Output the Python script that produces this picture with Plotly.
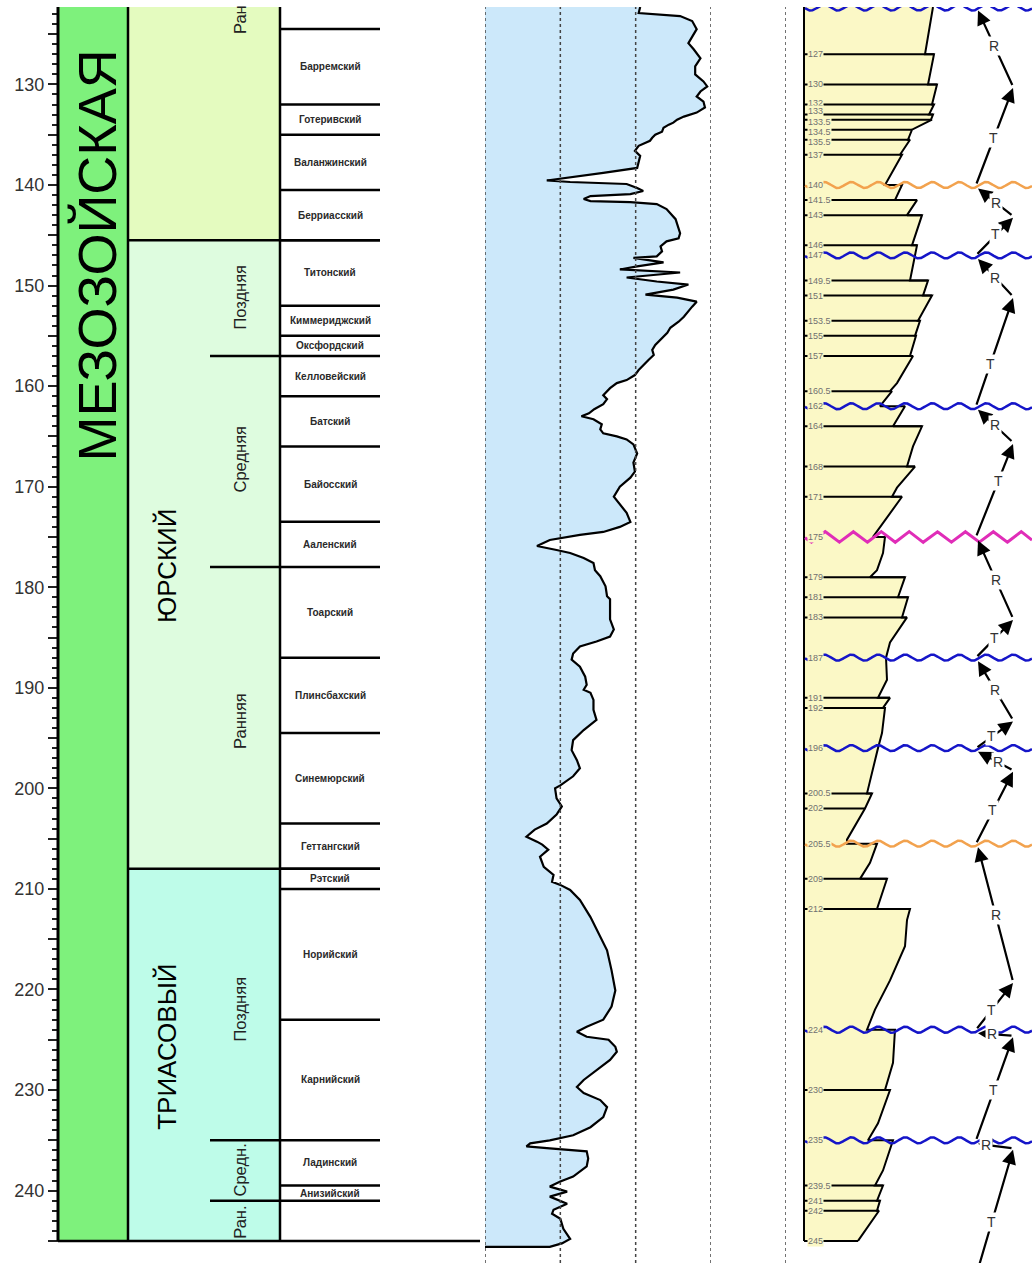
import numpy as np
import plotly.graph_objects as go

# ---------------- vertical scale (million years) ----------------
AGE_TOP = 122.3      # youngest age at the top edge
AGE_BOTTOM = 247.2   # oldest age at the bottom edge
AGE_BASE = 245.0     # base of the section

# ---------------- geological timescale ----------------
era_name = "МЕЗОЗОЙСКАЯ"
era_label_age = 147.0

period_names = ["", "ЮРСКИЙ", "ТРИАСОВЫЙ"]
period_tops = [AGE_TOP, 145.5, 208.0]
period_bases = [145.5, 208.0, 245.0]
period_label_ages = [None, 177.9, 225.7]
period_colors = ["#E4FBBF", "#DEFCDF", "#BEFCE9"]

epoch_names = ["Ран", "Поздняя", "Средняя", "Ранняя", "Поздняя", "Средн.", "Ран."]
epoch_label_ages = [123.6, 151.2, 167.3, 193.3, 222.0, 238.0, 243.2]
epoch_bounds = [157.0, 178.0, 235.0, 241.0]

stage_names = ["Барремский", "Готеривский", "Валанжинский", "Берриасский",
               "Титонский", "Киммериджский", "Оксфордский", "Келловейский",
               "Батский", "Байосский", "Ааленский", "Тоарский", "Плинсбахский",
               "Синемюрский", "Геттангский", "Рэтский", "Норийский",
               "Карнийский", "Ладинский", "Анизийский"]
stage_bounds = [124.5, 132.0, 135.0, 140.5, 145.5, 152.0, 155.0, 157.0, 161.0,
                166.0, 173.5, 178.0, 187.0, 194.5, 203.5, 208.0, 210.0, 223.0,
                235.0, 239.5, 241.0]

major_ticks = list(range(125, 246, 5))
major_labels = [str(t) if t % 10 == 0 else "" for t in major_ticks]
minor_ticks = [t for t in range(123, 245) if t % 5 != 0]

# ---------------- log curve ----------------
log_age = [122.3, 122.9, 123.2, 123.7, 124.5, 125.2, 125.9, 126.5, 127.4, 128.2,
           129.0, 129.7, 130.2, 130.7, 131.2, 131.7, 132.3, 132.8, 133.2, 133.5,
           133.8, 134.0, 134.3, 134.7, 135.0, 135.3, 135.6, 136.1, 136.6, 137.1,
           137.8, 138.3, 138.8, 139.3, 139.55, 139.7, 139.9, 140.3, 140.6, 140.9,
           141.1, 141.4, 141.6, 141.7, 141.9, 142.4, 143.4, 144.8, 145.3, 145.6,
           146.1, 146.6, 147.1, 147.25, 147.7, 148.1, 148.4, 148.7, 149.2, 149.6,
           149.9, 150.4, 150.9, 151.2, 151.6, 152.1, 152.6, 153.1, 153.6, 154.2,
           154.7, 155.4, 155.9, 156.4, 156.9, 157.4, 157.9, 158.4, 158.9, 159.4,
           159.7, 160.2, 160.9, 161.3, 161.8, 162.3, 162.7, 163.0, 163.3, 163.8,
           164.3, 164.7, 165.0, 165.3, 165.8, 166.7, 167.6, 168.5, 169.1, 170.0,
           171.0, 171.6, 172.6, 173.5, 174.0, 174.5, 174.8, 175.3, 175.9, 176.3,
           176.6, 177.1, 177.6, 178.3, 178.9, 179.9, 180.9, 181.2, 182.2, 183.2,
           184.2, 184.9, 185.4, 185.9, 186.6, 187.2, 187.9, 188.9, 189.7, 190.2,
           190.5, 191.2, 192.2, 193.2, 194.2, 195.2, 196.2, 197.2, 198.0, 198.8,
           199.7, 200.0, 201.0, 201.8, 202.6, 203.5, 204.1, 204.8, 205.3, 205.6,
           206.1, 206.8, 207.8, 208.6, 209.3, 209.6, 210.1, 211.1, 212.8, 214.4,
           216.1, 218.1, 220.1, 221.7, 223.0, 223.7, 224.2, 224.7, 225.0, 225.7,
           226.2, 227.0, 228.0, 229.0, 229.7, 230.3, 231.0, 231.7, 232.7, 233.7,
           234.5, 235.0, 235.3, 235.6, 235.8, 236.1, 236.8, 237.6, 238.6, 239.1,
           239.6, 240.1, 240.6, 241.3, 241.9, 242.3, 242.8, 243.8, 244.8, 245.25,
           245.6, 245.6]
log_value = [2.06, 2.04, 2.59, 2.75, 2.81, 2.75, 2.70, 2.77, 2.86, 2.79,
             2.79, 2.90, 2.95, 2.86, 2.81, 2.90, 2.92, 2.81, 2.64, 2.55,
             2.50, 2.44, 2.37, 2.35, 2.26, 2.22, 2.19, 2.04, 1.99, 2.06,
             2.04, 2.02, 1.57, 1.04, 0.82, 1.13, 1.88, 2.02, 2.10, 1.93,
             1.40, 1.31, 1.40, 1.93, 2.28, 2.41, 2.53, 2.59, 2.57, 2.41,
             2.33, 2.35, 2.28, 1.97, 2.37, 2.02, 1.79, 2.59, 1.88, 2.28,
             2.70, 2.50, 2.13, 2.55, 2.81, 2.75, 2.70, 2.64, 2.57, 2.46,
             2.42, 2.33, 2.26, 2.22, 2.24, 2.17, 2.10, 2.04, 1.99, 1.88,
             1.75, 1.66, 1.57, 1.62, 1.57, 1.45, 1.38, 1.28, 1.44, 1.55,
             1.53, 1.57, 1.75, 1.88, 1.97, 2.02, 1.97, 1.99, 1.93, 1.79,
             1.71, 1.77, 1.88, 1.93, 1.79, 1.57, 1.26, 0.86, 0.69, 0.95,
             1.13, 1.31, 1.44, 1.46, 1.53, 1.60, 1.62, 1.66, 1.66, 1.66,
             1.71, 1.66, 1.48, 1.26, 1.17, 1.15, 1.26, 1.33, 1.35, 1.31,
             1.40, 1.44, 1.44, 1.48, 1.31, 1.17, 1.15, 1.22, 1.26, 1.17,
             1.00, 0.93, 0.95, 1.02, 0.95, 0.82, 0.66, 0.55, 0.69, 0.76,
             0.84, 0.73, 0.78, 0.91, 0.89, 1.00, 1.13, 1.26, 1.40, 1.51,
             1.62, 1.68, 1.73, 1.68, 1.57, 1.35, 1.22, 1.35, 1.64, 1.73,
             1.75, 1.66, 1.48, 1.31, 1.22, 1.31, 1.53, 1.62, 1.57, 1.40,
             1.17, 0.86, 0.60, 0.55, 0.86, 1.35, 1.37, 1.35, 1.17, 1.00,
             0.86, 1.09, 0.86, 1.09, 0.91, 0.89, 1.00, 1.04, 1.13, 1.02,
             0.86, 0.00]

# ---------------- sequence column (bar width per age) ----------------
seq_edge_age = [122.3, 127, 127, 130, 130, 132, 132, 133, 133, 133.5, 133.5,
                134.5, 135.5, 135.5, 137, 137, 140, 140, 141.5, 141.5, 143, 143,
                146, 146, 149.5, 149.5, 151, 151, 153.5, 153.5, 155, 155, 157, 157,
                159.7, 160.5, 160.5, 162, 162, 164, 164, 166, 168, 168, 170.1,
                171, 171, 175, 175, 176.6, 178.3, 179, 179, 181, 181, 183, 183,
                185.5, 187, 189.2, 191, 191, 192, 192, 194.5, 196, 200.5, 200.5,
                202, 205.1, 205.5, 205.5, 207.4, 209, 209, 212, 212, 213.1, 215.7,
                219.1, 222, 224, 224, 227.3, 230, 230, 233.3, 235, 235, 238,
                239.5, 239.5, 241, 241, 242, 242, 245]
seq_edge_width = [129, 121, 130, 124, 133, 128, 130, 125, 129, 127, 128,
                  108, 104, 106, 96, 98, 81, 98, 91, 113, 103, 118,
                  108, 113, 106, 124, 119, 128, 114, 116, 111, 112, 106, 109,
                  93, 86, 88, 76, 101, 89, 118, 109, 103, 111, 93,
                  88, 98, 69, 81, 79, 73, 66, 101, 94, 104, 98, 103,
                  86, 82, 83, 74, 86, 79, 81, 78, 74, 63, 68,
                  61, 43, 43, 73, 66, 56, 83, 73, 106, 103, 101,
                  86, 71, 63, 91, 89, 81, 86, 74, 64, 89, 79,
                  71, 79, 73, 76, 73, 75, 54]

seq_tick_ages = [127, 130, 132, 133, 133.5, 134.5, 135.5, 137, 140, 141.5, 143,
                 146, 147, 149.5, 151, 153.5, 155, 157, 160.5, 162, 164, 168, 171,
                 175, 179, 181, 183, 187, 191, 192, 196, 200.5, 202, 205.5, 209,
                 212, 224, 230, 235, 239.5, 241, 242, 245]

unconf_ages = [122.35, 140, 147, 162, 175, 187, 196, 205.5, 224, 235]
unconf_kinds = ["blue", "orange", "blue", "blue", "magenta", "blue", "blue",
                "orange", "blue", "blue"]

cycle_top = [122.3, 140, 147, 162, 175, 187, 196, 205.5, 224, 235]
cycle_apex = [130.2, 143.1, 151.1, 165.6, 183.1, 193.2, 198.2, 219.2, 224.6, 235.8]
cycle_base = [140, 147, 162, 175, 187, 196, 205.5, 224, 235, 248.5]
cycle_r_age = [126.2, 141.8, 149.2, 163.9, 179.3, 190.2, 197.4, 212.6, 224.45, 235.45]
cycle_t_age = [135.3, 144.9, 157.8, 169.4, 185.0, 194.8, 202.2, 222.0, 230.0, 243.1]

# ---------------- styling ----------------
FONT = "Arial, 'Liberation Sans', sans-serif"
ERA_GREEN = "#7EF17C"
LOG_FILL = "#CCE8FA"
SEQ_FILL = "#FBF8C6"
WAVE_COLORS = {"blue": "#1515C8", "orange": "#F2A24E", "magenta": "#E02DB8"}
W, H = 1032, 1263
LEFT = 58

# small vertical offsets that keep the crowded age labels near 133 Ma legible
LABEL_NUDGE = {132: -0.15, 133: -0.35, 133.5: 0.2, 134.5: 0.25, 135.5: 0.2}


def px(x):
    """Horizontal page position in pixels -> paper fraction of the plot area."""
    return (x - LEFT) / (W - LEFT)


SEQ_W0, SEQ_W1 = -19, 228   # sequence axis range (bar-width units)
R_W, APEX_W = 174, 209      # horizontal positions of the R/T zigzag

fig = go.Figure()
shapes = []
annotations = []


def hline(x0, x1, age, width=2.5):
    shapes.append(dict(type="line", xref="paper", yref="y", x0=px(x0), x1=px(x1),
                       y0=age, y1=age, line=dict(color="black", width=width),
                       layer="above"))


def vline(x, age0, age1, width=2.5):
    shapes.append(dict(type="line", xref="paper", yref="y", x0=px(x), x1=px(x),
                       y0=age0, y1=age1, line=dict(color="black", width=width),
                       layer="above"))


def label(x, age, text, size, color="black", angle=0, weight="normal"):
    annotations.append(dict(xref="paper", yref="y", x=px(x), y=age, text=text,
                            textangle=angle, showarrow=False,
                            xanchor="center", yanchor="middle",
                            font=dict(family=FONT, size=size, color=color,
                                      weight=weight)))


# ---- era / period / epoch / stage columns ----
shapes.append(dict(type="rect", xref="paper", yref="y", x0=px(58), x1=px(128),
                   y0=AGE_TOP, y1=AGE_BASE, fillcolor=ERA_GREEN, line_width=0,
                   layer="below"))
for top, base, color in zip(period_tops, period_bases, period_colors):
    shapes.append(dict(type="rect", xref="paper", yref="y", x0=px(128), x1=px(280),
                       y0=top, y1=base, fillcolor=color, line_width=0, layer="below"))

vline(58, AGE_TOP, AGE_BASE, width=3)
vline(128, AGE_TOP, AGE_BASE)
vline(280, AGE_TOP, AGE_BASE)
hline(58, 480, AGE_BASE)
for b in period_bases[:-1]:
    hline(128, 380, b)
for b in epoch_bounds:
    hline(210, 280, b)
for b in stage_bounds:
    hline(280, 380, b)

label(97, era_label_age, era_name, 54, angle=-90)
for name, age in zip(period_names, period_label_ages):
    if name:
        label(167, age, name, 26, angle=-90)
for name, age in zip(epoch_names, epoch_label_ages):
    label(240, age, name, 16.5, color="#222", angle=-90)
for i, name in enumerate(stage_names):
    mid = (stage_bounds[i] + stage_bounds[i + 1]) / 2
    label(330, mid, name, 10, color="#2a2a2a", weight="bold")

# ---- log curve ----
for g in range(4):
    shapes.append(dict(type="line", xref="x2", yref="paper", x0=g, x1=g, y0=0, y1=1,
                       line=dict(color="#444", width=1.5, dash="dot"), layer="above"))
shapes.append(dict(type="line", xref="x3", yref="paper", x0=SEQ_W0, x1=SEQ_W0,
                   y0=0, y1=1, line=dict(color="#444", width=1.5, dash="dot"),
                   layer="above"))

fig.add_trace(go.Scatter(x=log_value, y=log_age, xaxis="x2", yaxis="y",
                         mode="lines", line=dict(color="black", width=2.2),
                         fill="tozerox", fillcolor=LOG_FILL,
                         hoverinfo="skip", showlegend=False))

# ---- sequence column ----
fig.add_trace(go.Scatter(x=[0] + seq_edge_width + [0],
                         y=[AGE_TOP] + seq_edge_age + [AGE_BASE],
                         xaxis="x3", yaxis="y", mode="lines", line=dict(width=0),
                         fill="toself", fillcolor=SEQ_FILL,
                         hoverinfo="skip", showlegend=False))

edge_age = np.array(seq_edge_age)
edge_w = np.array(seq_edge_width)
tick_x, tick_y = [], []
for age in seq_tick_ages:
    if any(abs(age - u) < 1e-6 for u in unconf_ages):
        continue
    w_end = edge_w[np.isclose(edge_age, age)].max()
    tick_x += [0, w_end, None]
    tick_y += [age, age, None]
fig.add_trace(go.Scatter(x=tick_x, y=tick_y, xaxis="x3", yaxis="y", mode="lines",
                         line=dict(color="black", width=2), hoverinfo="skip",
                         showlegend=False))
fig.add_trace(go.Scatter(x=seq_edge_width, y=seq_edge_age, xaxis="x3", yaxis="y",
                         mode="lines", line=dict(color="black", width=2),
                         hoverinfo="skip", showlegend=False))
fig.add_trace(go.Scatter(x=[0, 0], y=[AGE_TOP, AGE_BASE], xaxis="x3", yaxis="y",
                         mode="lines", line=dict(color="black", width=2),
                         hoverinfo="skip", showlegend=False))


def unconformity(age, kind):
    """Wavy (or zigzag) line used as the unconformity symbol."""
    w = np.linspace(1, SEQ_W1, 700)
    if kind == "magenta":
        offs = 0.55 * (2 / np.pi) * np.arcsin(np.sin(2 * np.pi * w / 28))
    else:
        offs = 0.3 * np.sin(2 * np.pi * w / 27)
    return w, age + offs


for age, kind in zip(unconf_ages, unconf_kinds):
    wx, wy = unconformity(age, kind)
    fig.add_trace(go.Scatter(x=wx, y=wy, xaxis="x3", yaxis="y", mode="lines",
                             line=dict(color=WAVE_COLORS[kind],
                                       width=3 if kind == "magenta" else 2.5),
                             hoverinfo="skip", showlegend=False))

for age in seq_tick_ages:
    annotations.append(dict(xref="x3", yref="y", x=3,
                            y=age + LABEL_NUDGE.get(age, 0.0),
                            text=f"{age:g}", xanchor="left", yanchor="middle",
                            showarrow=False, bgcolor=SEQ_FILL, borderpad=0,
                            font=dict(family=FONT, size=9, color="#707070")))

# ---- regression / transgression zigzag ----
for top, apex, base, r_age, t_age in zip(cycle_top, cycle_apex, cycle_base,
                                         cycle_r_age, cycle_t_age):
    head_r = top + 0.35
    arrow = dict(xref="x3", yref="y", axref="x3", ayref="y", text="",
                 showarrow=True, arrowhead=2, arrowsize=1.3, arrowwidth=2.2,
                 arrowcolor="black", standoff=0)
    annotations.append(dict(arrow, x=R_W, y=head_r, ax=APEX_W, ay=apex))
    annotations.append(dict(arrow, x=APEX_W, y=apex + 0.15, ax=R_W - 2, ay=base))
    r_w = np.interp(r_age, [head_r, apex], [R_W, APEX_W])
    t_w = APEX_W + (R_W - 2 - APEX_W) * (t_age - apex) / (base - apex)
    for letter, lx, ly in (("R", r_w, r_age), ("T", t_w, t_age)):
        annotations.append(dict(xref="x3", yref="y", x=lx, y=ly, text=letter,
                                xanchor="center", yanchor="middle",
                                showarrow=False, bgcolor="white", borderpad=1,
                                font=dict(family=FONT, size=14, color="#333")))

fig.update_layout(
    width=W, height=H,
    margin=dict(l=LEFT, r=0, t=7, b=0),
    paper_bgcolor="white", plot_bgcolor="white",
    showlegend=False,
    xaxis=dict(domain=[0, 1], range=[0, 1], visible=False, fixedrange=True),
    xaxis2=dict(domain=[px(485), px(711)], range=[0, 3], visible=False,
                anchor="y"),
    xaxis3=dict(domain=[px(785), 1.0], range=[SEQ_W0, SEQ_W1], visible=False,
                anchor="y"),
    yaxis=dict(range=[AGE_BOTTOM, AGE_TOP], anchor="free", position=0,
               showgrid=False, zeroline=False, showline=False, ticks="outside",
               tickmode="array", tickvals=major_ticks, ticktext=major_labels,
               ticklen=10, tickwidth=2, tickcolor="#222",
               tickfont=dict(family=FONT, size=18, color="#333"),
               minor=dict(tickmode="array", tickvals=minor_ticks, ticks="outside",
                          ticklen=6, tickwidth=1.5, tickcolor="#222",
                          showgrid=False)),
    shapes=shapes,
    annotations=annotations,
)

fig.write_html("out.html")
